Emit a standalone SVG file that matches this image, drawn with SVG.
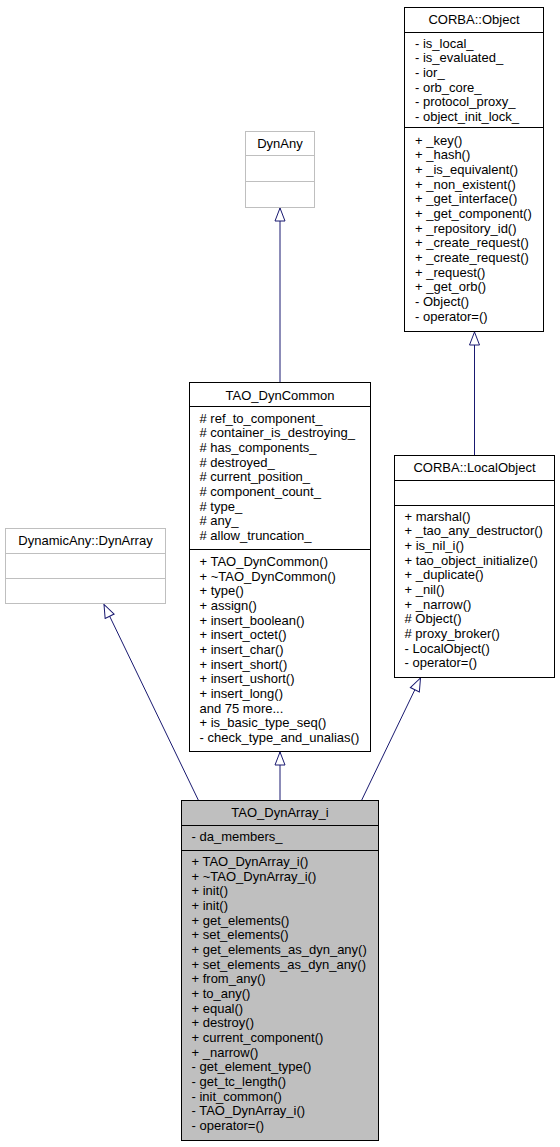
<svg xmlns="http://www.w3.org/2000/svg" width="560" height="1147" viewBox="0 0 560 1147">
<style>
  text { font-family: "Liberation Sans", Arial, Helvetica, sans-serif; font-size: 13px; fill: #000; }
  .t { text-anchor: middle; }
  .box { fill: #fff; stroke: #000; stroke-width: 1; }
  .ubox { fill: #fff; stroke: #bfbfbf; stroke-width: 1; }
  .hbox { fill: #bfbfbf; stroke: #000; stroke-width: 1; }
  .sep { stroke: #000; stroke-width: 1; }
  .usep { stroke: #bfbfbf; stroke-width: 1; }
  .edge { fill: none; stroke: #191970; stroke-width: 1; marker-end: url(#inh); }
</style>
<defs>
  <marker id="inh" viewBox="0 0 16 12" markerWidth="16" markerHeight="12" refX="14.5" refY="6" orient="auto" markerUnits="userSpaceOnUse">
    <path d="M1.5,1 L14.5,6 L1.5,11 Z" fill="#fff" stroke="#191970" stroke-width="1"/>
  </marker>
</defs>
<rect width="560" height="1147" fill="#fff"/>

<g id="connectors">
  <path class="edge" d="M280,382.5 L280,208"/>
  <path class="edge" d="M474.5,455.5 L474.5,332"/>
  <path class="edge" d="M198.5,800.5 L104,604.5"/>
  <path class="edge" d="M280,800.5 L280,752"/>
  <path class="edge" d="M361.5,800.5 L420.5,678"/>
</g>

<g id="node-corba-object">
  <rect class="box" x="404.5" y="7.5" width="139" height="324"/>
  <line class="sep" x1="404.5" y1="32.5" x2="543.5" y2="32.5"/>
  <line class="sep" x1="404.5" y1="127.5" x2="543.5" y2="127.5"/>
  <text class="t" x="474" y="24">CORBA::Object</text>
  <text x="415" y="47.5">- is_local_</text>
  <text x="415" y="62.2">- is_evaluated_</text>
  <text x="415" y="76.8">- ior_</text>
  <text x="415" y="91.5">- orb_core_</text>
  <text x="415" y="106.2">- protocol_proxy_</text>
  <text x="415" y="120.8">- object_init_lock_</text>
  <text x="415" y="144.5">+ _key()</text>
  <text x="415" y="159.2">+ _hash()</text>
  <text x="415" y="173.8">+ _is_equivalent()</text>
  <text x="415" y="188.5">+ _non_existent()</text>
  <text x="415" y="203.2">+ _get_interface()</text>
  <text x="415" y="217.8">+ _get_component()</text>
  <text x="415" y="232.5">+ _repository_id()</text>
  <text x="415" y="247.2">+ _create_request()</text>
  <text x="415" y="261.9">+ _create_request()</text>
  <text x="415" y="276.5">+ _request()</text>
  <text x="415" y="291.2">+ _get_orb()</text>
  <text x="415" y="305.9">- Object()</text>
  <text x="415" y="320.5">- operator=()</text>
</g>

<g id="node-dynany">
  <rect class="ubox" x="245.5" y="131.5" width="69" height="76"/>
  <line class="usep" x1="245.5" y1="155.5" x2="314.5" y2="155.5"/>
  <line class="usep" x1="245.5" y1="181.5" x2="314.5" y2="181.5"/>
  <text class="t" x="280" y="148">DynAny</text>
</g>

<g id="node-dynamicany-dynarray">
  <rect class="ubox" x="5.5" y="528.5" width="160" height="75"/>
  <line class="usep" x1="5.5" y1="553.5" x2="165.5" y2="553.5"/>
  <line class="usep" x1="5.5" y1="578.5" x2="165.5" y2="578.5"/>
  <text class="t" x="85.5" y="545">DynamicAny::DynArray</text>
</g>

<g id="node-tao-dyncommon">
  <rect class="box" x="189.5" y="382.5" width="181" height="369"/>
  <line class="sep" x1="189.5" y1="406.5" x2="370.5" y2="406.5"/>
  <line class="sep" x1="189.5" y1="549.5" x2="370.5" y2="549.5"/>
  <text class="t" x="280" y="399.5">TAO_DynCommon</text>
  <text x="199.5" y="422.5"># ref_to_component_</text>
  <text x="199.5" y="437.2"># container_is_destroying_</text>
  <text x="199.5" y="451.8"># has_components_</text>
  <text x="199.5" y="466.5"># destroyed_</text>
  <text x="199.5" y="481.2"># current_position_</text>
  <text x="199.5" y="495.8"># component_count_</text>
  <text x="199.5" y="510.5"># type_</text>
  <text x="199.5" y="525.2"># any_</text>
  <text x="199.5" y="539.9"># allow_truncation_</text>
  <text x="199.5" y="566">+ TAO_DynCommon()</text>
  <text x="199.5" y="580.7">+ ~TAO_DynCommon()</text>
  <text x="199.5" y="595.3">+ type()</text>
  <text x="199.5" y="610">+ assign()</text>
  <text x="199.5" y="624.7">+ insert_boolean()</text>
  <text x="199.5" y="639.3">+ insert_octet()</text>
  <text x="199.5" y="654">+ insert_char()</text>
  <text x="199.5" y="668.7">+ insert_short()</text>
  <text x="199.5" y="683.4">+ insert_ushort()</text>
  <text x="199.5" y="698">+ insert_long()</text>
  <text x="199.5" y="712.7">and 75 more...</text>
  <text x="199.5" y="727.4">+ is_basic_type_seq()</text>
  <text x="199.5" y="742">- check_type_and_unalias()</text>
</g>

<g id="node-corba-localobject">
  <rect class="box" x="394.5" y="455.5" width="160" height="222"/>
  <line class="sep" x1="394.5" y1="480.5" x2="554.5" y2="480.5"/>
  <line class="sep" x1="394.5" y1="505.5" x2="554.5" y2="505.5"/>
  <text class="t" x="474.5" y="471.5">CORBA::LocalObject</text>
  <text x="404.5" y="520.5">+ marshal()</text>
  <text x="404.5" y="535.2">+ _tao_any_destructor()</text>
  <text x="404.5" y="549.8">+ is_nil_i()</text>
  <text x="404.5" y="564.5">+ tao_object_initialize()</text>
  <text x="404.5" y="579.2">+ _duplicate()</text>
  <text x="404.5" y="593.8">+ _nil()</text>
  <text x="404.5" y="608.5">+ _narrow()</text>
  <text x="404.5" y="623.2"># Object()</text>
  <text x="404.5" y="637.9"># proxy_broker()</text>
  <text x="404.5" y="652.5">- LocalObject()</text>
  <text x="404.5" y="667.2">- operator=()</text>
</g>

<g id="node-tao-dynarray-i">
  <rect class="hbox" x="181.5" y="800.5" width="197" height="340"/>
  <line class="sep" x1="181.5" y1="825.5" x2="378.5" y2="825.5"/>
  <line class="sep" x1="181.5" y1="850.5" x2="378.5" y2="850.5"/>
  <text class="t" x="280" y="817">TAO_DynArray_i</text>
  <text x="191.5" y="841">- da_members_</text>
  <text x="191.5" y="866">+ TAO_DynArray_i()</text>
  <text x="191.5" y="880.7">+ ~TAO_DynArray_i()</text>
  <text x="191.5" y="895.3">+ init()</text>
  <text x="191.5" y="910">+ init()</text>
  <text x="191.5" y="924.7">+ get_elements()</text>
  <text x="191.5" y="939.3">+ set_elements()</text>
  <text x="191.5" y="954">+ get_elements_as_dyn_any()</text>
  <text x="191.5" y="968.7">+ set_elements_as_dyn_any()</text>
  <text x="191.5" y="983.4">+ from_any()</text>
  <text x="191.5" y="998">+ to_any()</text>
  <text x="191.5" y="1012.7">+ equal()</text>
  <text x="191.5" y="1027.4">+ destroy()</text>
  <text x="191.5" y="1042">+ current_component()</text>
  <text x="191.5" y="1056.7">+ _narrow()</text>
  <text x="191.5" y="1071.4">- get_element_type()</text>
  <text x="191.5" y="1086">- get_tc_length()</text>
  <text x="191.5" y="1100.7">- init_common()</text>
  <text x="191.5" y="1115.4">- TAO_DynArray_i()</text>
  <text x="191.5" y="1130">- operator=()</text>
</g>
</svg>
